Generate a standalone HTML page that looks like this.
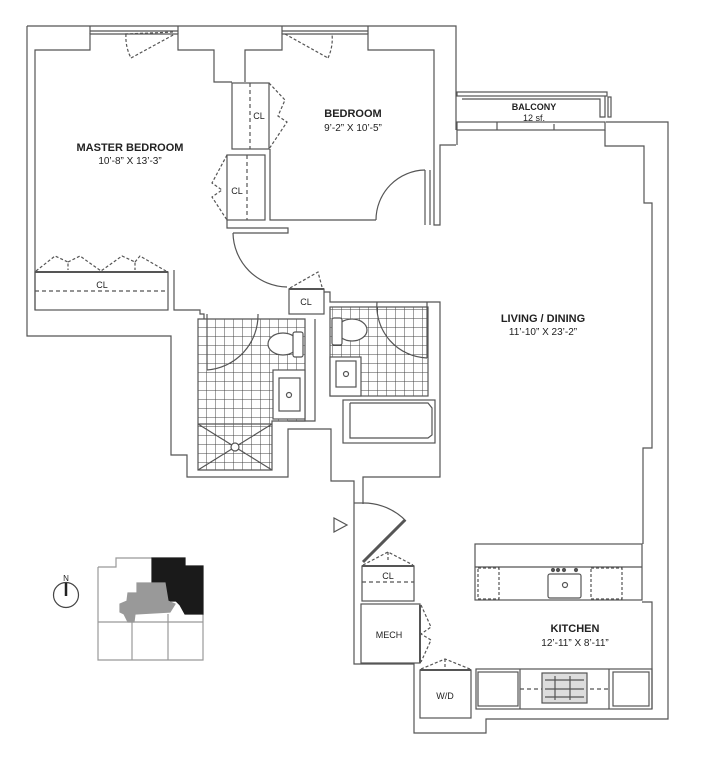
<!DOCTYPE html>
<html><head><meta charset="utf-8"><style>
html,body{margin:0;padding:0;background:#fff;}
svg{display:block;}
text{font-family:"Liberation Sans",sans-serif;fill:#222;}
.b{font-weight:bold;font-size:11px;}
.d{font-size:10px;}
.s{font-size:9px;}
</style></head><body>
<svg width="702" height="770" viewBox="0 0 702 770" xmlns="http://www.w3.org/2000/svg">
<defs>
<pattern id="t" x="198" y="319" width="9" height="9" patternUnits="userSpaceOnUse">
<path d="M9 0V9M0 9H9" stroke="#444" stroke-width="1" fill="none"/>
</pattern>
</defs>
<g fill="none" stroke="#555" stroke-width="1.2">
<!-- tiles -->
<path d="M198,319 H305 V421 H272 V470 H198 Z" fill="url(#t)" stroke="#555"/>
<rect x="330" y="307" width="98" height="89" fill="url(#t)" stroke="#555"/>
<!-- outer outline -->
<polyline points="27,26 456,26 456,130"/>
<polyline points="27,26 27,336 171,336 171,455 187,455 187,477 288,477 288,429 331,429 331,481 354,481 354,664 414,664 414,733 486,733 486,719 668,719 668,122 606,122"/>
<!-- master bedroom inner -->
<polyline points="35,310 35,50 90,50 90,34 178,34 178,50 214,50 214,82 232,82"/>
<line x1="90" y1="26" x2="90" y2="34"/><line x1="178" y1="26" x2="178" y2="34"/>
<line x1="90" y1="31" x2="178" y2="31"/>
<polyline points="174,270 174,310 200,310 200,314 204,314 204,319"/>
<!-- master closets -->
<rect x="232" y="83" width="37" height="66"/>
<line x1="250" y1="83" x2="250" y2="149" stroke-dasharray="4,3"/>
<rect x="227" y="155" width="38" height="65"/>
<line x1="247" y1="155" x2="247" y2="220" stroke-dasharray="4,3"/>
<polyline points="269,83 285,100 278,116 287,122 269,149" stroke-dasharray="3,2"/>
<polyline points="227,155 212,183 222,190 212,197 227,220" stroke-dasharray="3,2"/>
<polyline points="227,220 227,228 288,228 288,233 233,233"/>
<!-- bedroom 2 -->
<polyline points="245,82 245,50 282,50 282,34 368,34 368,50 434,50 434,225 440,225 440,145 456,145"/>
<line x1="282" y1="26" x2="282" y2="34"/><line x1="368" y1="26" x2="368" y2="34"/>
<line x1="282" y1="31" x2="368" y2="31"/>
<polyline points="270,149 270,220 376,220"/>
<line x1="425" y1="170" x2="425" y2="225"/><line x1="430" y1="170" x2="430" y2="225"/>
<path d="M376,220 A50,50 0 0 1 425,170"/>
<!-- window doors top -->
<line x1="125" y1="34" x2="175" y2="32" stroke-dasharray="3,2"/><line x1="131" y1="58" x2="175" y2="34" stroke-dasharray="3,2"/>
<path d="M126,34 A45,45 0 0 0 131,58" stroke-dasharray="3,2"/>
<line x1="285" y1="34" x2="328" y2="58" stroke-dasharray="3,2"/>
<path d="M328,58 A45,45 0 0 0 332,34" stroke-dasharray="3,2"/>
<!-- master door -->
<path d="M233,233 A55,55 0 0 0 287,287"/>
<!-- bottom CL -->
<rect x="35" y="272" width="133" height="38"/>
<line x1="35" y1="272" x2="168" y2="272" stroke-width="2"/>
<line x1="35" y1="291" x2="168" y2="291" stroke-dasharray="4,3"/>
<path d="M36,271 L55,256 L68,262 L68,270 M68,262 L80,256 L101,271 L122,256 L135,262 L135,270 M135,262 L140,256 L166,271" stroke-dasharray="3,2"/>
<!-- small CL -->
<rect x="289" y="289" width="35" height="25"/>
<line x1="289" y1="289" x2="324" y2="289" stroke-width="2"/>
<polyline points="290,288 318,272 322,287" stroke-dasharray="3,2"/>
<polyline points="324,292 330,292 330,302 440,302 440,477 363,477 363,504"/>
<!-- master bath -->
<polyline points="315,319 315,421 288,421"/>
<line x1="198" y1="424" x2="272" y2="424"/>
<line x1="198" y1="424" x2="272" y2="470"/><line x1="272" y1="424" x2="198" y2="470"/>
<circle cx="235" cy="447" r="4" fill="#fff"/>
<line x1="207" y1="314" x2="207" y2="370"/>
<path d="M207,370 A55,55 0 0 0 258,314"/>
<rect x="273" y="370" width="32" height="49" fill="#fff"/>
<rect x="279" y="378" width="21" height="33"/>
<circle cx="289" cy="395" r="2.5"/>
<ellipse cx="283" cy="344" rx="15" ry="11" fill="#fff"/>
<rect x="293" y="332" width="10" height="25" rx="2" fill="#fff"/>
<!-- second bath -->
<line x1="427" y1="302" x2="427" y2="358"/>
<path d="M377,302 A52,52 0 0 0 427,358"/>
<rect x="330" y="357" width="31" height="39" fill="#fff"/>
<rect x="336" y="361" width="20" height="26"/>
<circle cx="346" cy="374" r="2.5"/>
<ellipse cx="352" cy="330" rx="15" ry="11" fill="#fff"/>
<rect x="332" y="318" width="10" height="27" rx="2" fill="#fff"/>
<rect x="343" y="400" width="92" height="43"/>
<polyline points="350,403 428,403 432,408 432,435 428,438 350,438 350,403"/>
<!-- balcony -->
<rect x="457" y="92" width="150" height="4"/>
<polyline points="462,99 600,99 600,117 605,117 605,96"/>
<rect x="608" y="97" width="3" height="20"/>
<rect x="457" y="122" width="148" height="8"/>
<line x1="497" y1="122" x2="497" y2="130"/><line x1="554" y1="124" x2="554" y2="130"/>
<path d="M457,130 V145 M605,130 V146 H644 V203 H652 V448 H643 V544"/>
<!-- entry -->
<line x1="354" y1="503" x2="363" y2="503"/>
<line x1="363" y1="562" x2="405" y2="520" stroke-width="3"/>
<path d="M363,503 A59,59 0 0 1 406,521"/>
<polygon points="334,518 334,532 347,525" fill="#fff"/>
<!-- entry CL / mech / WD -->
<rect x="362" y="566" width="52" height="35"/>
<line x1="362" y1="566" x2="414" y2="566" stroke-width="2"/>
<line x1="362" y1="582" x2="414" y2="582" stroke-dasharray="4,3"/>
<path d="M363,565 L388,552 L413,565 M388,552 V560" stroke-dasharray="3,2"/>
<rect x="361" y="604" width="59" height="59"/>
<line x1="420" y1="605" x2="420" y2="663" stroke-width="2"/>
<polyline points="421,605 431,627 421,634 431,640 421,662" stroke-dasharray="3,2"/>
<rect x="420" y="670" width="51" height="48"/>
<line x1="420" y1="670" x2="471" y2="670" stroke-width="2"/>
<path d="M421,669 L445,659 L470,669 M445,659 V667" stroke-dasharray="3,2"/>
<!-- kitchen -->
<rect x="475" y="544" width="167" height="56"/>
<line x1="475" y1="567" x2="642" y2="567"/>
<rect x="478" y="568" width="21" height="31" stroke-dasharray="3,2"/>
<rect x="591" y="568" width="31" height="31" stroke-dasharray="3,2"/>
<rect x="548" y="574" width="33" height="24" rx="2"/>
<circle cx="565" cy="585" r="2.5"/>
<circle cx="553" cy="570" r="1.5" fill="#555"/><circle cx="558" cy="570" r="1.5" fill="#555"/><circle cx="564" cy="570" r="1.5" fill="#555"/><circle cx="576" cy="570" r="1.5" fill="#555"/>
<polyline points="642,602 652,602 652,709"/>
<rect x="476" y="669" width="176" height="40"/>
<rect x="478" y="672" width="40" height="34"/>
<rect x="613" y="672" width="36" height="34"/>
<line x1="520" y1="669" x2="520" y2="709"/><line x1="609" y1="669" x2="609" y2="709"/>
<line x1="520" y1="689" x2="609" y2="689" stroke-dasharray="4,3"/>
<rect x="542" y="673" width="45" height="30" fill="#ddd"/>
<line x1="545" y1="680" x2="584" y2="680"/><line x1="545" y1="689" x2="584" y2="689"/><line x1="545" y1="697" x2="584" y2="697"/>
<line x1="555" y1="676" x2="555" y2="700"/><line x1="570" y1="676" x2="570" y2="700"/>
<!-- keyplan -->
<polyline points="98,567 116,567 116,558 152,558" stroke="#999"/>
<polyline points="98,567 98,660 203,660 203,614" stroke="#999"/>
<line x1="98" y1="622" x2="203" y2="622" stroke="#999"/>
<line x1="132" y1="622" x2="132" y2="660" stroke="#999"/><line x1="168" y1="614" x2="168" y2="660" stroke="#999"/>
<polygon points="152,558 185,558 185,566 203,566 203,614 185,614 180,605 176,601 168,601 165,588 165,583 152,583" fill="#1a1a1a" stroke="#1a1a1a"/>
<polygon points="137,583 165,583 168,601 175,604 170,612 135,614 134,622 128,622 124,614 120,612 120,604 127,601 128,593 137,593" fill="#999" stroke="#999"/>
<circle cx="66" cy="595" r="12.5" stroke="#444"/>
<line x1="66" y1="583" x2="66" y2="596" stroke="#222" stroke-width="2.5"/>
</g>
<text class="b" x="130" y="151" text-anchor="middle">MASTER BEDROOM</text>
<text class="d" x="130" y="164" text-anchor="middle">10’-8” X 13’-3”</text>
<text class="b" x="353" y="117" text-anchor="middle">BEDROOM</text>
<text class="d" x="353" y="131" text-anchor="middle">9’-2” X 10’-5”</text>
<text class="b" x="534" y="110" text-anchor="middle" style="font-size:9px">BALCONY</text>
<text class="s" x="534" y="121" text-anchor="middle">12 sf.</text>
<text class="b" x="543" y="322" text-anchor="middle">LIVING / DINING</text>
<text class="d" x="543" y="335" text-anchor="middle">11’-10” X 23’-2”</text>
<text class="b" x="575" y="632" text-anchor="middle">KITCHEN</text>
<text class="d" x="575" y="646" text-anchor="middle">12’-11” X 8’-11”</text>
<text class="s" x="259" y="119" text-anchor="middle">CL</text>
<text class="s" x="237" y="194" text-anchor="middle">CL</text>
<text class="s" x="102" y="288" text-anchor="middle">CL</text>
<text class="s" x="306" y="305" text-anchor="middle">CL</text>
<text class="s" x="388" y="579" text-anchor="middle">CL</text>
<text class="s" x="389" y="638" text-anchor="middle">MECH</text>
<text class="s" x="445" y="699" text-anchor="middle">W/D</text>
<text x="66" y="581" text-anchor="middle" style="font-size:8px">N</text>
</svg>
</body></html>
